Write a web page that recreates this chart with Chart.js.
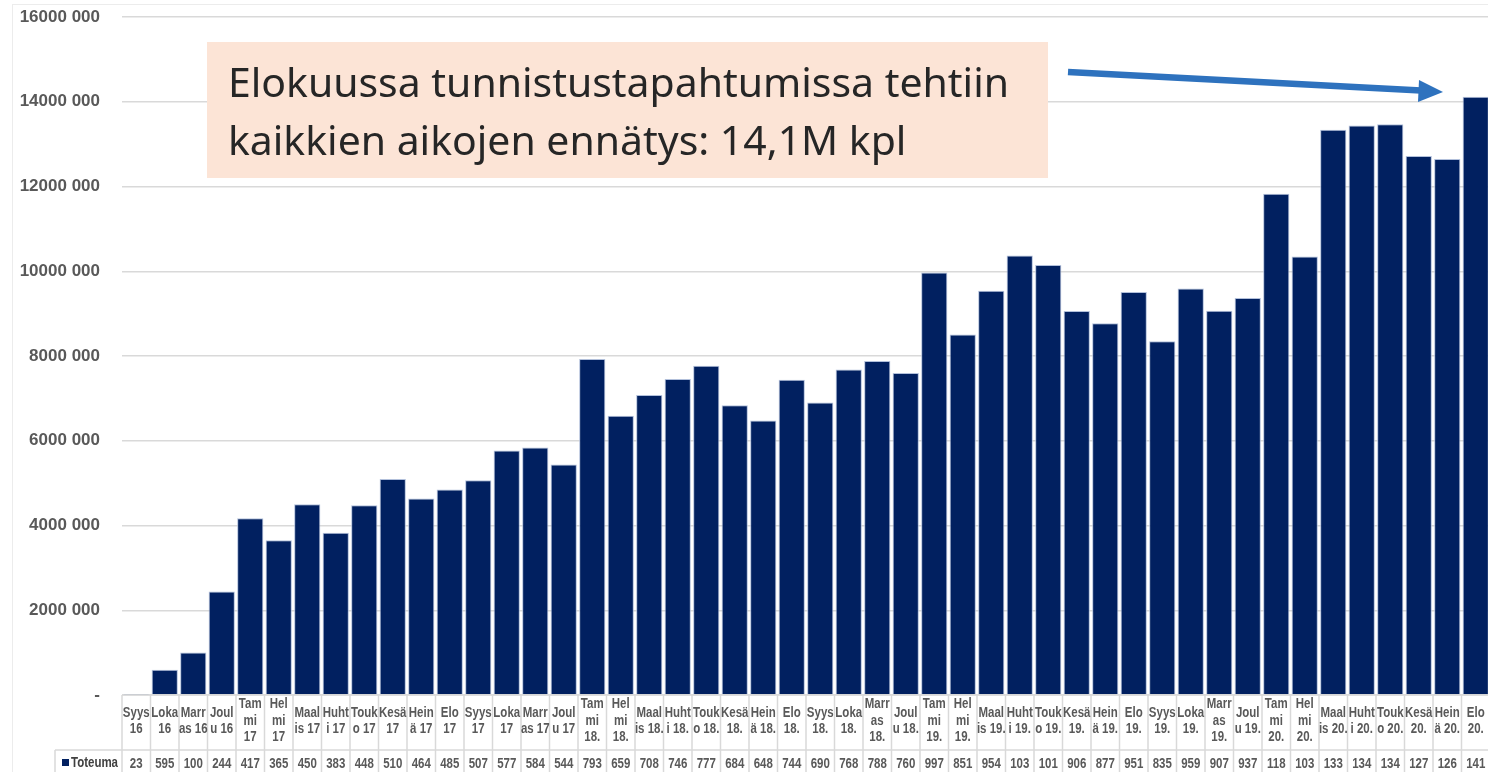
<!DOCTYPE html>
<html>
<head>
<meta charset="utf-8">
<script src="https://cdn.jsdelivr.net/npm/chart.js@4.4.1/dist/chart.umd.min.js"></script>
<style>
  html, body { margin: 0; padding: 0; background: #fff; overflow: hidden; }
  #wrap { width: 1500px; height: 772px; }
</style>
</head>
<body>
<div id="wrap"><canvas id="chart" width="1500" height="772"></canvas></div>
<script>
// Kuukaudet taulukon otsikkoriviä varten (rivitetty kuten alkuperäisessä)
const kuukaudet = [
  ['Syys', '16'], ['Loka', '16'], ['Marr', 'as 16'], ['Joul', 'u 16'],
  ['Tam', 'mi', '17'], ['Hel', 'mi', '17'], ['Maal', 'is 17'], ['Huht', 'i 17'],
  ['Touk', 'o 17'], ['Kesä', '17'], ['Hein', 'ä 17'], ['Elo', '17'],
  ['Syys', '17'], ['Loka', '17'], ['Marr', 'as 17'], ['Joul', 'u 17'],
  ['Tam', 'mi', '18.'], ['Hel', 'mi', '18.'], ['Maal', 'is 18.'], ['Huht', 'i 18.'],
  ['Touk', 'o 18.'], ['Kesä', '18.'], ['Hein', 'ä 18.'], ['Elo', '18.'],
  ['Syys', '18.'], ['Loka', '18.'], ['Marr', 'as', '18.'], ['Joul', 'u 18.'],
  ['Tam', 'mi', '19.'], ['Hel', 'mi', '19.'], ['Maal', 'is 19.'], ['Huht', 'i 19.'],
  ['Touk', 'o 19.'], ['Kesä', '19.'], ['Hein', 'ä 19.'], ['Elo', '19.'],
  ['Syys', '19.'], ['Loka', '19.'], ['Marr', 'as', '19.'], ['Joul', 'u 19.'],
  ['Tam', 'mi', '20.'], ['Hel', 'mi', '20.'], ['Maal', 'is 20.'], ['Huht', 'i 20.'],
  ['Touk', 'o 20.'], ['Kesä', '20.'], ['Hein', 'ä 20.'], ['Elo', '20.']
];

// Tunnistustapahtumat kuukausittain (kpl)
const toteuma = [
  23, 595000, 1005000, 2440000,
  4170000, 3650000, 4500000, 3830000,
  4480000, 5100000, 4640000, 4850000,
  5070000, 5770000, 5840000, 5440000,
  7930000, 6590000, 7080000, 7460000,
  7770000, 6840000, 6480000, 7440000,
  6900000, 7680000, 7880000, 7600000,
  9970000, 8510000, 9540000, 10370000,
  10150000, 9060000, 8770000, 9510000,
  8350000, 9590000, 9070000, 9370000,
  11830000, 10350000, 13340000, 13440000,
  13470000, 12720000, 12650000, 14120000
];

const yMax = 16000000;
const yStep = 2000000;

const huomio = ['Elokuussa tunnistustapahtumissa tehtiin', 'kaikkien aikojen ennätys: 14,1M kpl'];

// y-akselin muoto: "16000 000", nolla näytetään viivana
function muotoile(v) {
  if (v === 0) return '-';
  return Math.floor(v / 1000) + ' 000';
}

// kapea teksti (Calibri-tyylinen) skaalaamalla vaakasuunnassa
function kapeaTeksti(ctx, teksti, x, y, kerroin) {
  ctx.save();
  ctx.translate(x, y);
  ctx.scale(kerroin, 1);
  ctx.fillText(teksti, 0, 0);
  ctx.restore();
}

const taulukkoPlugin = {
  id: 'taulukko',
  afterDraw(chart) {
    const ctx = chart.ctx;
    const xs = chart.scales.x;
    const area = chart.chartArea;
    const n = kuukaudet.length;
    const w = xs.width / n;
    const top = area.bottom;
    const rowSplit = 750;
    const bottom = 772;
    const k = 0.82;

    ctx.save();
    // reunat
    ctx.strokeStyle = '#d9d9d9';
    ctx.lineWidth = 1.5;
    ctx.beginPath();
    ctx.moveTo(area.left, top); ctx.lineTo(area.right, top);
    ctx.moveTo(55, rowSplit); ctx.lineTo(area.right, rowSplit);
    ctx.moveTo(55, rowSplit); ctx.lineTo(55, bottom);
    for (let i = 0; i <= n; i++) {
      const x = area.left + i * w;
      ctx.moveTo(x, top); ctx.lineTo(x, bottom);
    }
    ctx.stroke();

    // otsikot
    ctx.fillStyle = '#595959';
    ctx.font = 'bold 14px "Liberation Sans"';
    ctx.textBaseline = 'middle';
    ctx.textAlign = 'left';
    const lh = 16.5;
    const keski = 721;
    kuukaudet.forEach((rivit, i) => {
      const cx = xs.getPixelForValue(i);
      const y0 = keski - (rivit.length - 1) * lh / 2;
      rivit.forEach((r, j) => {
        const tw = ctx.measureText(r).width * k;
        kapeaTeksti(ctx, r, cx - tw / 2, y0 + j * lh, k);
      });
      const arvo = String(toteuma[i]).slice(0, 3);
      const aw = ctx.measureText(arvo).width * k;
      kapeaTeksti(ctx, arvo, cx - aw / 2, 764, k);
    });

    // selite
    ctx.fillStyle = chart.data.datasets[0].backgroundColor;
    ctx.fillRect(62, 759, 7, 7);
    ctx.fillStyle = '#404040';
    kapeaTeksti(ctx, chart.data.datasets[0].label, 71, 763, k);

    // huomiolaatikko
    ctx.fillStyle = '#fce4d6';
    ctx.fillRect(207, 42, 841, 136);
    ctx.fillStyle = '#262626';
    ctx.font = '40px "Noto Sans"';
    ctx.textBaseline = 'alphabetic';
    const s = 781 / ctx.measureText(huomio[0]).width;
    kapeaTeksti(ctx, huomio[0], 228, 97, s);
    kapeaTeksti(ctx, huomio[1], 228, 155, s);

    // nuoli
    ctx.strokeStyle = '#2e72be';
    ctx.fillStyle = '#2e72be';
    ctx.lineWidth = 6.5;
    ctx.beginPath();
    ctx.moveTo(1068, 72);
    ctx.lineTo(1421, 90.5);
    ctx.stroke();
    ctx.beginPath();
    ctx.moveTo(1443, 92);
    ctx.lineTo(1419, 80);
    ctx.lineTo(1418, 102);
    ctx.closePath();
    ctx.fill();

    // dian reunaviivat
    ctx.strokeStyle = '#ececec';
    ctx.lineWidth = 1;
    ctx.beginPath();
    ctx.moveTo(12.5, 4); ctx.lineTo(12.5, 772);
    ctx.moveTo(12, 4.5); ctx.lineTo(1500, 4.5);
    ctx.stroke();
    ctx.restore();
  }
};

const ctx = document.getElementById('chart').getContext('2d');
const chart = new Chart(ctx, {
  type: 'bar',
  data: {
    labels: kuukaudet,
    datasets: [{
      label: 'Toteuma',
      data: toteuma,
      backgroundColor: '#012060',
      borderColor: 'rgba(170,185,215,0.9)',
      borderWidth: 1,
      borderSkipped: 'bottom',
      barPercentage: 0.92,
      categoryPercentage: 1
    }]
  },
  options: {
    responsive: false,
    devicePixelRatio: 1,
    animation: false,
    layout: { padding: { left: 0, right: 10, top: 17, bottom: 77 } },
    plugins: {
      legend: { display: false },
      tooltip: { enabled: false }
    },
    scales: {
      x: {
        display: false,
        offset: true
      },
      y: {
        min: 0,
        max: yMax,
        ticks: {
          stepSize: yStep,
          padding: 22,
          color: '#595959',
          font: { family: 'Liberation Sans', size: 17, weight: 'bold' },
          callback: v => muotoile(v)
        },
        grid: { color: '#d9d9d9', lineWidth: 1.5, drawTicks: false },
        border: { display: false },
        afterFit(scale) {
          scale.width = 122;
          scale.paddingTop = 0;
          scale.paddingBottom = 0;
        }
      }
    }
  },
  plugins: [taulukkoPlugin]
});
</script>
</body>
</html>
